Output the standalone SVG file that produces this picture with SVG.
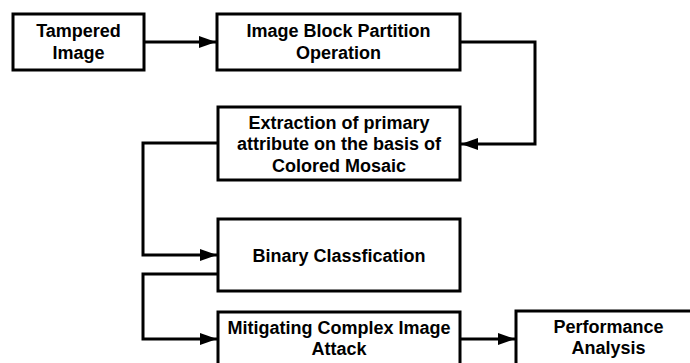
<svg xmlns="http://www.w3.org/2000/svg" width="690" height="363" viewBox="0 0 690 363">
<style>
.box{fill:#fff;stroke:#000;stroke-width:3}
.t{font-family:"Liberation Sans",Arial,Helvetica,sans-serif;font-weight:bold;font-size:18px;text-anchor:middle;fill:#000}
.c{fill:none;stroke:#000;stroke-width:3;marker-end:url(#ah)}
</style>
<defs>
<marker id="ah" markerUnits="userSpaceOnUse" markerWidth="18" markerHeight="12" refX="17" refY="6" orient="auto">
<path d="M0,0 L17,6 L0,12 Z" fill="#000"/>
</marker>
</defs>
<rect width="690" height="363" fill="#fff"/>
<g id="connectors">
<path class="c" d="M144,42 H216"/>
<path class="c" d="M460,42 H535 V144 H461"/>
<path class="c" d="M218,143 H143 V255 H217"/>
<path class="c" d="M218,274 H143 V339 H217"/>
<path class="c" d="M460,339 H515"/>
</g>
<g id="n1">
<rect class="box" x="13" y="14" width="131" height="56"/>
<text class="t" x="78.5" y="36.5">Tampered</text>
<text class="t" x="78.5" y="58.5">Image</text>
</g>
<g id="n2">
<rect class="box" x="217" y="14" width="243" height="56"/>
<text class="t" x="338.5" y="36.5">Image Block Partition</text>
<text class="t" x="338.5" y="58.5">Operation</text>
</g>
<g id="n3">
<rect class="box" x="218" y="107" width="242" height="73"/>
<text class="t" x="339" y="128.5">Extraction of primary</text>
<text class="t" x="339" y="150">attribute on the basis of</text>
<text class="t" x="339" y="171.5">Colored Mosaic</text>
</g>
<g id="n4">
<rect class="box" x="218" y="219" width="242" height="72"/>
<text class="t" x="339" y="261.5">Binary Classfication</text>
</g>
<g id="n5">
<rect class="box" x="218" y="312" width="242" height="56"/>
<text class="t" x="339" y="334">Mitigating Complex Image</text>
<text class="t" x="339" y="355">Attack</text>
</g>
<g id="n6">
<rect class="box" x="516" y="311" width="190" height="57"/>
<text class="t" x="608.5" y="333">Performance</text>
<text class="t" x="608.5" y="354">Analysis</text>
</g>
</svg>
